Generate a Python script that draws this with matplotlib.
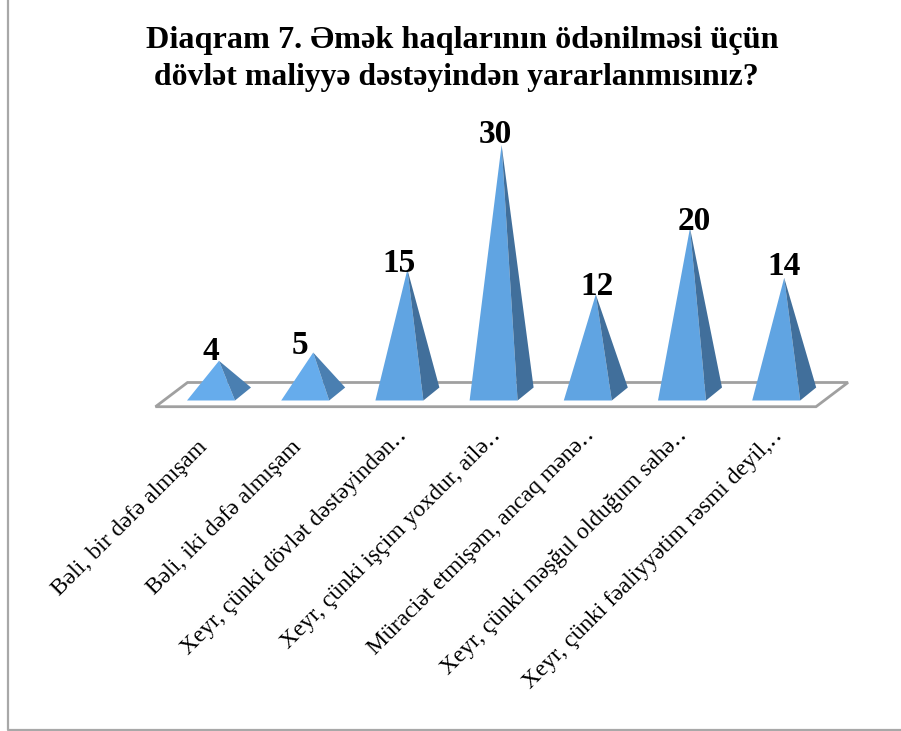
import numpy as np
import matplotlib
matplotlib.use('Agg')
import matplotlib.pyplot as plt
from matplotlib.patches import Polygon

TITLE_1 = 'Diaqram 7. Əmək haqlarının ödənilməsi üçün'
TITLE_2 = 'dövlət maliyyə dəstəyindən yararlanmısınız?'
categories = [
    'Bəli, bir dəfə almışam',
    'Bəli, iki dəfə almışam',
    'Xeyr, çünki dövlət dəstəyindən‥',
    'Xeyr, çünki işçim yoxdur, ailə‥',
    'Müraciət etmişəm, ancaq mənə‥',
    'Xeyr, çünki məşğul olduğum sahə‥',
    'Xeyr, çünki fəaliyyətim rəsmi deyil,‥',
]
values = [4, 5, 15, 30, 12, 20, 14]
# little nudges of the value labels, in px
label_dx = [-8, -13, -8, -6, 1, 4, 0]
label_dy = [1, -1, -3, 2, -1, -2, 3]
# end of each category label relative to its pyramid, in px
cat_dx = [-11, -11, 0, 0, -1, -2, -1]
cat_dy = [-54, -54, -42, -42, -42, -42, -42]

plt.rcParams['font.family'] = ['Liberation Serif', 'DejaVu Serif']

W, H = 901, 731
PT = 0.72  # px to points at dpi 100
fig = plt.figure(figsize=(W / 100, H / 100), dpi=100)
ax = fig.add_axes([0, 0, 1, 1])
ax.axis('off')

# one category is 94.2 px wide, one value unit 8.3 px high, zero sits at pixel y=394
px_x = 94.2
px_y = 8.3
ax.set_xlim(-219 / px_x, (W - 219) / px_x)
ax.set_ylim((394 - H) / px_y, 394 / px_y)

left = 32 / px_x
right = 16 / px_x
back = 32 / px_x
depth_y = 6.5 / px_y

# floor
floor_x = [-63.5 / px_x, 597 / px_x, 629 / px_x, -31.5 / px_x]
floor_y = [-12.7 / px_y, -12.7 / px_y, 11.5 / px_y, 11.5 / px_y]
ax.add_patch(Polygon(np.column_stack([floor_x, floor_y]), closed=True, fc='white',
                     ec='#A0A0A0', lw=2, zorder=1))

for i, v in enumerate(values):
    front = [(i - left, -depth_y), (i + right, -depth_y), (i, v)]
    side = [(i + right, -depth_y), (i + back, depth_y), (i, v)]
    small = v < 10
    ax.add_patch(Polygon(front, closed=True, fc='#66ACEC' if small else '#60A4E2', ec='none', zorder=2))
    ax.add_patch(Polygon(side, closed=True, fc='#4A7FB1' if small else '#416F9B', ec='none', zorder=3))
    ax.annotate(str(v), (i, v), xytext=(label_dx[i] * PT, label_dy[i] * PT), textcoords='offset points',
                ha='center', va='baseline', fontsize=24, fontweight='bold', zorder=4)
    ax.annotate(categories[i], (i, 0), xytext=(cat_dx[i] * PT, cat_dy[i] * PT), textcoords='offset points',
                ha='right', va='baseline', rotation=45, rotation_mode='anchor', fontsize=17)

ax.text(462.5 / W, 1 - 48 / H, TITLE_1, transform=ax.transAxes, ha='center', va='baseline',
        fontsize=23.25, fontweight='bold')
ax.text(456 / W, 1 - 85 / H, TITLE_2, transform=ax.transAxes, ha='center', va='baseline',
        fontsize=22.85, fontweight='bold')

# outer chart border
ax.plot([7.5 / W, 7.5 / W, 1], [1, 1.5 / H, 1.5 / H], transform=ax.transAxes, color='#A8A8A8', lw=1.6, clip_on=False)

fig.savefig('out.png', dpi=100)
